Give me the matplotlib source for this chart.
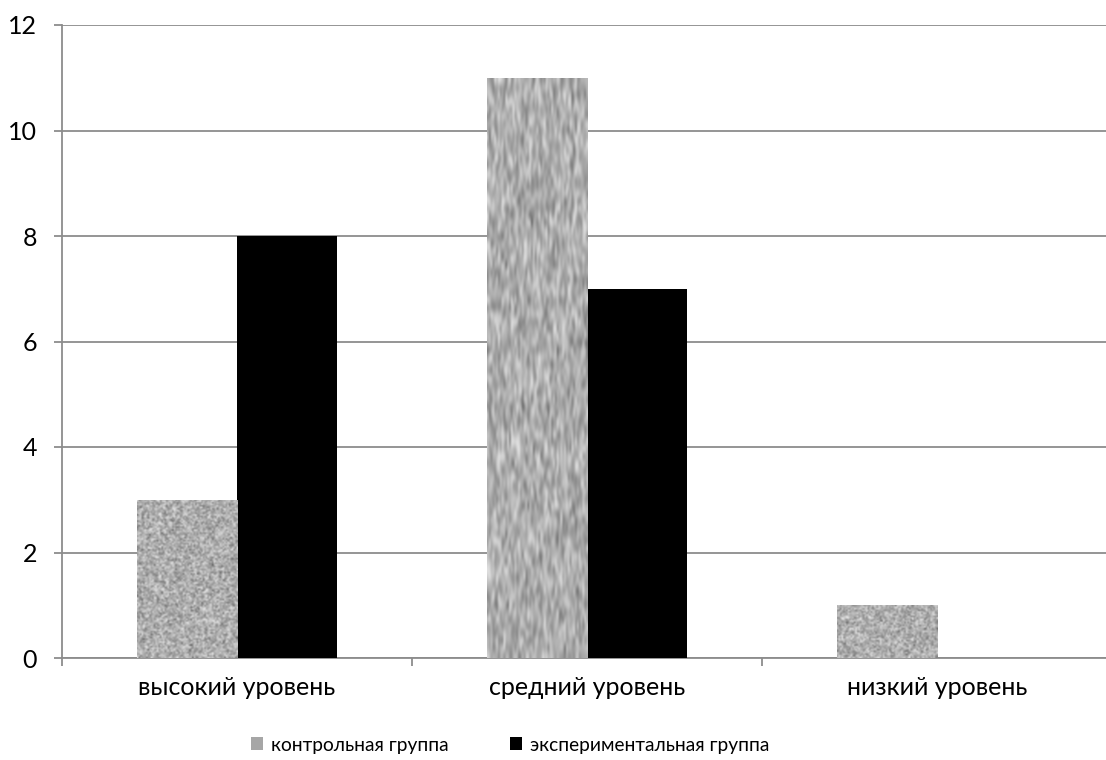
import numpy as np
import matplotlib.pyplot as plt
from matplotlib.patches import Patch

categories = ["высокий уровень", "средний уровень", "низкий уровень"]
series_names = ["контрольная группа", "экспериментальная группа"]
control = [3, 11, 1]
experimental = [8, 7, 0]

# the middle control bar has a stretched, streaky fill
streaky = [False, True, False]

plt.rcParams['font.family'] = ['Lato', 'DejaVu Sans']

GRID = '#8c8c8c'

fig = plt.figure(figsize=(11.06, 7.6), dpi=100)
ax = fig.add_axes([62 / 1106, 1 - 658 / 760, 1050 / 1106, 633 / 760])

x = np.arange(len(categories))
w = 0.286
ctrl_bars = ax.bar(x - w / 2, control, w, color='#a9a9a9', zorder=3)
exp_bars = ax.bar(x + w / 2, experimental, w, color='black', zorder=3)

ax.set_xlim(-0.5, 2.5)
ax.set_ylim(0, 12)

rng = np.random.default_rng(3)


def add_texture(bar, stretch):
    x0, y0 = bar.get_x(), bar.get_y()
    bw, bh = bar.get_width(), bar.get_height()
    if bh <= 0:
        return
    px_w = bw * 350
    px_h = bh * 633 / 12
    if stretch:
        cols, rows = int(px_w / 1.8), int(px_h / 7)
    else:
        cols, rows = int(px_w / 1.5), int(px_h / 1.5)
    noise = rng.normal(0.0, 1.0, (rows, cols))
    noise = np.clip(0.68 + 0.12 * noise, 0.25, 0.92)
    im = ax.imshow(noise, cmap='gray', vmin=0, vmax=1, aspect='auto',
                   extent=(x0, x0 + bw, y0, y0 + bh), origin='lower',
                   interpolation='bicubic', zorder=3.5)
    im.set_clip_path(bar)


for bar, s in zip(ctrl_bars, streaky):
    add_texture(bar, s)

ax.set_xlim(-0.5, 2.5)
ax.set_ylim(0, 12)
ax.set_aspect('auto')

ax.set_yticks(np.arange(0, 13, 2))
ax.yaxis.grid(True, color=GRID, lw=1.3)
ax.set_axisbelow(True)

ax.set_xticks(x)
ax.set_xticklabels(categories)
ax.set_xticks([-0.5, 0.5, 1.5, 2.5], minor=True)
ax.tick_params(axis='x', which='major', length=0, pad=13, labelsize=18)
ax.tick_params(axis='x', which='minor', length=6, width=1.3, color=GRID)
ax.tick_params(axis='y', length=6, width=1.3, color=GRID, pad=12, labelsize=18)

for side in ('top', 'right'):
    ax.spines[side].set_visible(False)
for side in ('left', 'bottom'):
    ax.spines[side].set_color(GRID)
    ax.spines[side].set_linewidth(1.3)

handles = [Patch(facecolor='#a6a6a6'), Patch(facecolor='black')]
fig.legend(handles, series_names, loc='center', ncol=2,
           bbox_to_anchor=(510 / 1106, 1 - 745 / 760), frameon=False,
           fontsize=13.8, handlelength=0.65, handleheight=0.65,
           handletextpad=0.4, columnspacing=3.2)

fig.savefig('out.png', dpi=100)
